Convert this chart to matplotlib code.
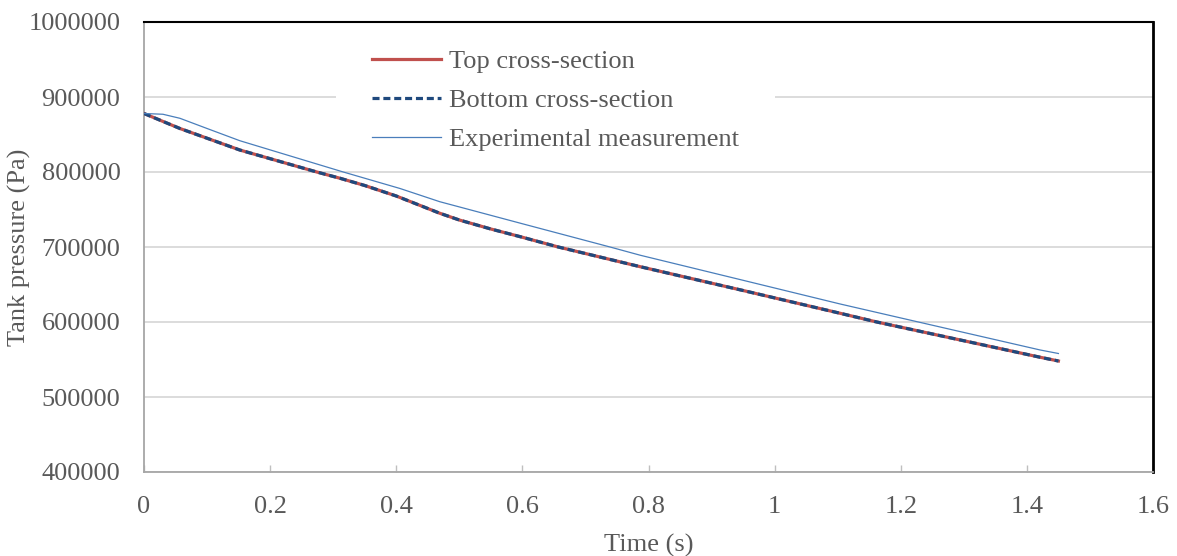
import matplotlib
matplotlib.use("Agg")
import matplotlib.pyplot as plt
from matplotlib.patches import Rectangle

# simulated tank pressure (top and bottom cross-sections overlap)
t_sim = [0, 0.057, 0.152, 0.274, 0.311, 0.35, 0.4, 0.469, 0.5, 0.55, 0.6, 0.657,
         0.787, 0.95, 1.104, 1.162, 1.3, 1.421, 1.45]
p_top = [878000, 858000, 829300, 800000, 791600, 782000, 768000, 745000, 736000,
         724000, 713000, 700000, 673700, 642000, 611600, 600000, 575000, 553000, 548000]
p_bottom = [878000, 858000, 829300, 800000, 791600, 782000, 768000, 745000, 736000,
            724000, 713000, 700000, 673700, 642000, 611600, 600000, 575000, 553000, 548000]

# experimental measurement
t_exp = [0, 0.03, 0.057, 0.1, 0.152, 0.316, 0.406, 0.469, 0.6, 0.739, 0.787, 0.95,
         1.104, 1.2, 1.421, 1.45]
p_exp = [878000, 877000, 871600, 858000, 841700, 800000, 778000, 760400, 731000,
         700000, 689000, 655600, 624000, 605400, 562700, 558000]

x_ticks = [0, 0.2, 0.4, 0.6, 0.8, 1, 1.2, 1.4, 1.6]
x_labels = ["0", "0.2", "0.4", "0.6", "0.8", "1", "1.2", "1.4", "1.6"]
y_ticks = [400000, 500000, 600000, 700000, 800000, 900000, 1000000]

TXT = "#595959"
plt.rcParams["font.family"] = ["Liberation Serif", "DejaVu Serif"]
FS = 19

fig = plt.figure(figsize=(11.77, 5.56), dpi=100)
ax = fig.add_axes([144 / 1177, 1 - 472 / 556, 1009 / 1177, 450 / 556])

ax.plot(t_sim, p_top, color="#C0504D", lw=2.3, label="Top cross-section", zorder=3)
ax.plot(t_sim, p_bottom, color="#1F497D", lw=2.3, ls=(0, (2.2, 1.2)),
        label="Bottom cross-section", zorder=4)
ax.plot(t_exp, p_exp, color="#4A7EBB", lw=0.9, label="Experimental measurement", zorder=5)

ax.set_xlim(0, 1.6)
ax.set_ylim(400000, 1000000)
ax.set_xticks(x_ticks)
ax.set_xticklabels(x_labels)
ax.set_yticks(y_ticks)
ax.set_yticklabels([str(v) for v in y_ticks])

ax.set_axisbelow(True)
ax.grid(axis="y", color="#D9D9D9", lw=1.3)
ax.tick_params(axis="x", direction="in", length=5, width=1, color="#BFBFBF",
               pad=17, labelsize=FS, labelcolor=TXT)
ax.tick_params(axis="y", length=0, pad=17, labelsize=FS, labelcolor=TXT)

for s in ("left", "bottom"):
    ax.spines[s].set_color("#A6A6A6")
    ax.spines[s].set_linewidth(1.3)
ax.spines["top"].set_color("black")
ax.spines["top"].set_linewidth(1.5)
ax.spines["right"].set_color("black")
ax.spines["right"].set_linewidth(2)

ax.set_xlabel("Time (s)", fontsize=FS, color=TXT)
ax.xaxis.set_label_coords(0.5, -0.137)
ax.set_ylabel("Tank pressure (Pa)", fontsize=FS, color=TXT)
ax.yaxis.set_label_coords(-0.112, 0.5)

# white legend background breaking the gridline
ax.add_patch(Rectangle(((336 - 144) / 1009, (472 - 160) / 450), (775 - 336) / 1009,
                       120 / 450, transform=ax.transAxes, facecolor="white",
                       edgecolor="none", zorder=1))

leg = ax.legend(loc="upper left", bbox_to_anchor=((372 - 144) / 1009, (472 - 50) / 450),
                frameon=False, borderpad=0, borderaxespad=0, fontsize=FS,
                handlelength=2.6, handletextpad=0.3, labelspacing=0.58)
for txt in leg.get_texts():
    txt.set_color(TXT)

fig.savefig("out.png", dpi=100)
